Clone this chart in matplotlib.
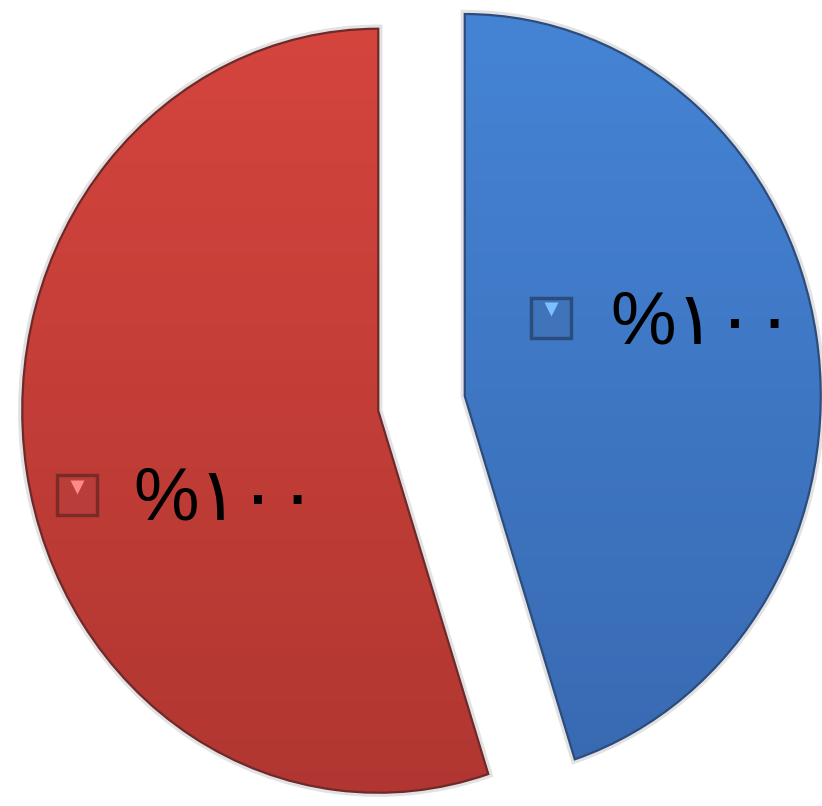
import matplotlib
matplotlib.use("Agg")
import matplotlib.pyplot as plt
from matplotlib.patches import Wedge
import numpy as np
from matplotlib.colors import LinearSegmentedColormap

# Data
categories = ["blue", "red"]
values = [45, 55]
labels = ["%١٠٠", "%١٠٠"]
colors = ["#3F7ECF", "#CC403B"]
top_colors = ["#4686D8", "#D8463F"]
bottom_colors = ["#3767AE", "#AE3530"]
edge_colors = ["#2D4C7C", "#6E2A2A"]
marker_faces = ["#3F74BA", "#B93D38"]
marker_edges = ["#2B4D7E", "#7A2B28"]
marker_lights = ["#7CC0FF", "#FF8A8A"]

fig = plt.figure(figsize=(8.22, 8.06), dpi=100)
ax = fig.add_axes([0, 0, 1, 1])

wedges, _ = ax.pie(values, colors=colors, startangle=90, counterclock=False,
                   explode=[0.123, 0.123], radius=1.0,
                   wedgeprops=dict(edgecolor="none", linewidth=0))
ax.set_aspect("auto")
ax.axis("off")

# soft shadow, gradient shading clipped to each wedge, outline
for w, tc, bc, ec in zip(wedges, top_colors, bottom_colors, edge_colors):
    cx, cy = w.center
    sh = Wedge((cx, cy), w.r, w.theta1, w.theta2, facecolor="none",
               edgecolor="#e2e2e2", linewidth=6, zorder=1)
    ax.add_patch(sh)
    cmap = LinearSegmentedColormap.from_list("g", [bc, tc])
    grad = np.linspace(0, 1, 256).reshape(-1, 1)
    im = ax.imshow(grad, cmap=cmap, origin="lower", aspect="auto",
                   extent=[-1.3, 1.3, -1.2, 1.2], zorder=2)
    im.set_clip_path(w)
    ol = Wedge((cx, cy), w.r, w.theta1, w.theta2, facecolor="none",
               edgecolor=ec, linewidth=1.6, zorder=3)
    ax.add_patch(ol)
ax.set_xlim(-1.184, 1.125)
ax.set_ylim(-1.054, 1.056)

# labels with legend keys
marker_pos = [(0.364, 0.224), (-0.968, -0.24)]
text_pos = [(0.530, 0.156), (-0.810, -0.305)]
for (mx, my), (tx, ty), lab, mf, me, ml in zip(marker_pos, text_pos, labels,
                                               marker_faces, marker_edges,
                                               marker_lights):
    ax.plot([mx], [my], marker="s", markersize=29, markerfacecolor=mf,
            markeredgecolor=me, markeredgewidth=2.5, zorder=5)
    ax.plot([mx], [my + 0.022], marker="v", markersize=10, markerfacecolor=ml,
            markeredgecolor="none", zorder=6)
    ax.text(tx, ty, lab, fontsize=53, ha="left", va="baseline",
            family=["Liberation Sans", "DejaVu Sans"], color="black", zorder=6)

fig.savefig("out.png", dpi=100, facecolor="white")
